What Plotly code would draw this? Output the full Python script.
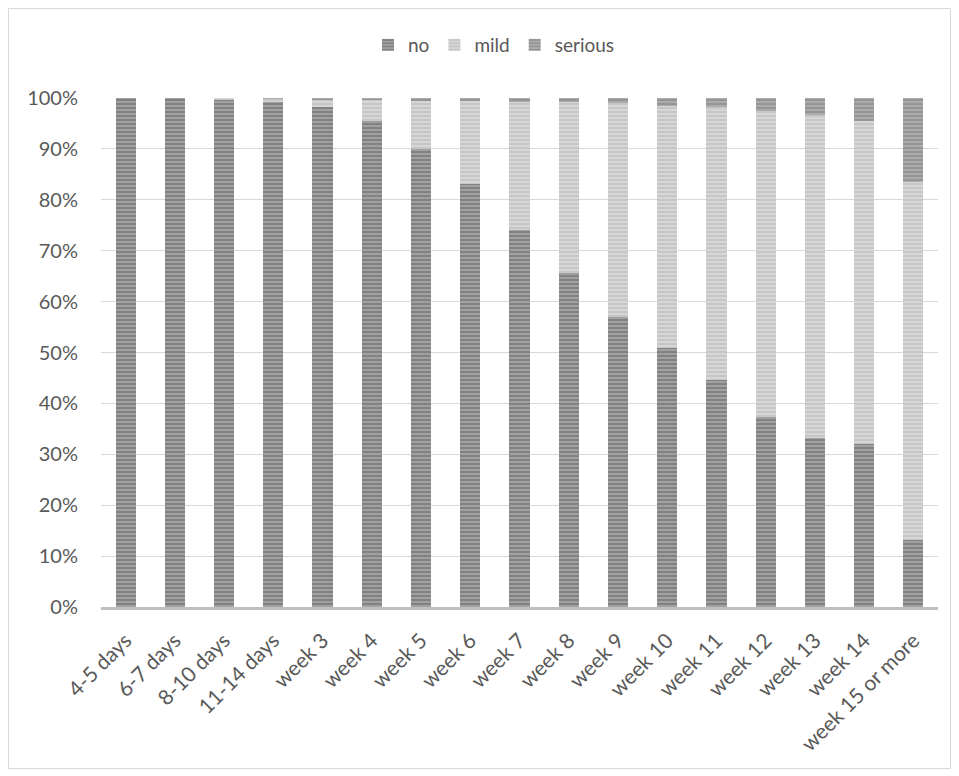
import plotly.graph_objects as go

categories = ["4-5 days", "6-7 days", "8-10 days", "11-14 days", "week 3", "week 4",
              "week 5", "week 6", "week 7", "week 8", "week 9", "week 10", "week 11",
              "week 12", "week 13", "week 14", "week 15 or more"]
no_vals = [100, 100, 99.8, 99.2, 98.2, 95.5, 90.0, 83.1, 74.1, 65.6, 57.0, 50.8, 44.6, 37.3, 33.3, 32.0, 13.2]
mild_vals = [0, 0, 0.2, 0.7, 1.6, 4.3, 9.5, 16.4, 25.2, 33.6, 42.0, 47.7, 53.6, 60.2, 63.4, 63.5, 70.2]
serious_vals = [0, 0, 0, 0.1, 0.2, 0.2, 0.5, 0.5, 0.7, 0.8, 1.0, 1.5, 1.8, 2.5, 3.3, 4.5, 16.6]

FONT = "Lato, Open Sans, sans-serif"
TXT = "#595959"

def bar(name, vals, fg, bg):
    return go.Bar(
        name=name, x=categories, y=vals,
        marker=dict(color=bg, line=dict(width=0),
                    pattern=dict(shape="-", fgcolor=fg, bgcolor=bg, size=4, solidity=0.45,
                                 fillmode="overlay")),
    )

fig = go.Figure([
    bar("no", no_vals, "#5c5c5c", "#a0a0a0"),
    bar("mild", mild_vals, "#b3b3b3", "#d6d6d6"),
    bar("serious", serious_vals, "#7a7a7a", "#ababab"),
])

W, H = 959, 776
L, R, T, B = 101, 21, 98, 169
pw, ph = W - L - R, H - T - B

def px_x(p):
    return (p - L) / pw

def px_y(p):
    return (H - B - p) / ph

fig.update_layout(
    width=W, height=H,
    barmode="stack", bargap=0.59,
    margin=dict(l=L, r=R, t=T, b=B, autoexpand=False),
    paper_bgcolor="white", plot_bgcolor="white",
    font=dict(family=FONT, size=20, color=TXT),
    legend=dict(orientation="h", x=px_x(494), xanchor="center", y=px_y(45), yanchor="middle",
                font=dict(size=19, color=TXT), itemwidth=30, traceorder="normal"),
    xaxis=dict(showline=True, linecolor="#bfbfbf", linewidth=3, ticks="",
               tickangle=-45, tickfont=dict(size=21, color=TXT), showgrid=False,
               ticklabelstandoff=10),
    yaxis=dict(range=[0, 100], dtick=10, ticksuffix="%", showgrid=True, gridcolor="#d9d9d9",
               gridwidth=1, zeroline=False, ticks="", ticklabelstandoff=22,
               tickfont=dict(size=20, color=TXT)),
    shapes=[dict(type="rect", xref="paper", yref="paper",
                 x0=px_x(8.5), x1=px_x(950.5), y0=px_y(768.5), y1=px_y(8.5),
                 line=dict(color="#d9d9d9", width=1), fillcolor="rgba(0,0,0,0)", layer="below")],
)

fig.write_html("out.html")
